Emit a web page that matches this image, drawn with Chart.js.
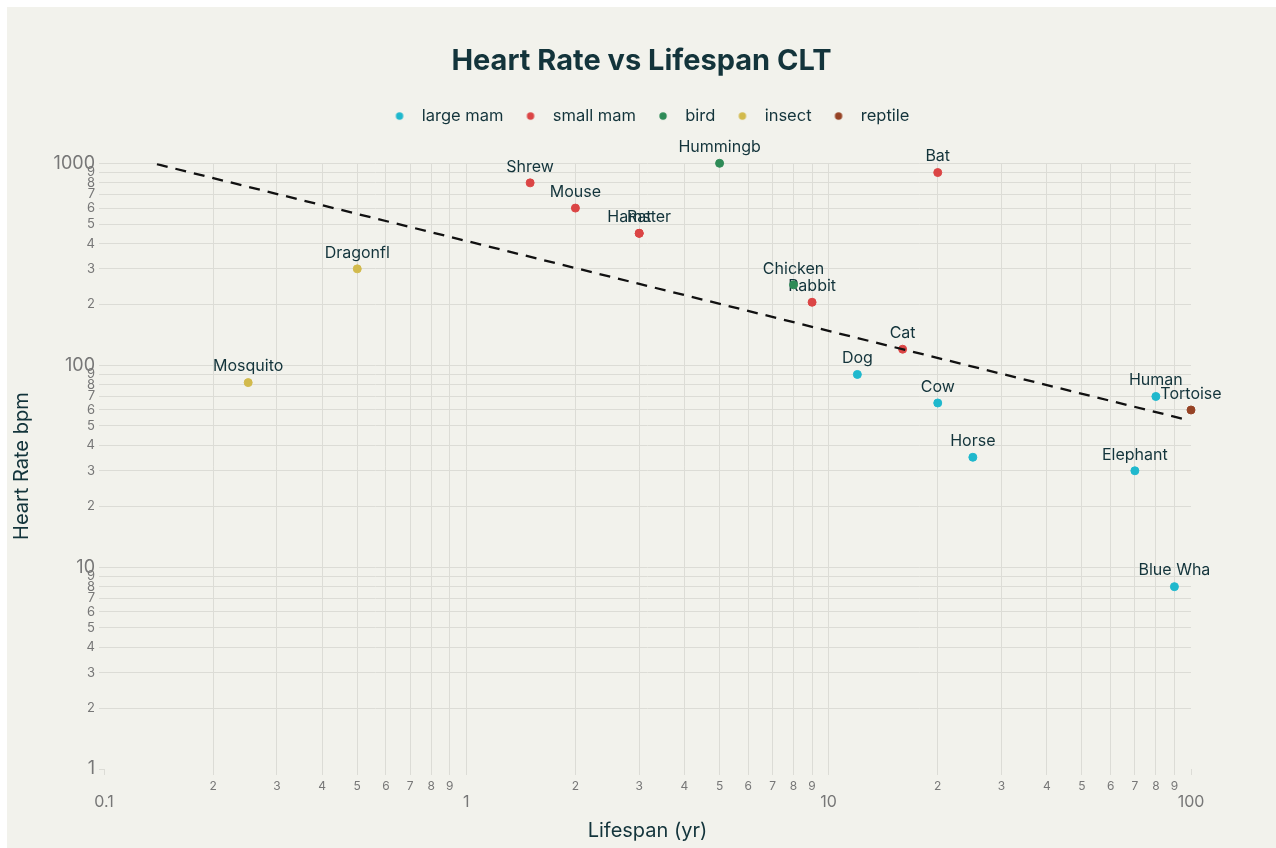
<!DOCTYPE html>
<html>
<head>
<meta charset="utf-8">
<title>Heart Rate vs Lifespan CLT</title>
<script src="https://cdn.jsdelivr.net/npm/chart.js@4.4.1/dist/chart.umd.min.js"></script>
<style>
  html, body { margin: 0; padding: 0; background: #ffffff; }
  .wrap { position: absolute; left: 7px; top: 7px; width: 1269px; height: 841px; background: #f2f2ec; }
</style>
</head>
<body>
<div class="wrap"><canvas id="chart" width="1269" height="841"></canvas></div>
<script>
// groups shown in the legend
const groups = ["large mam", "small mam", "bird", "insect", "reptile"];
const groupColors = ["#1FB8CD", "#DB4545", "#2E8B57", "#D2BA4C", "#964325"];

// one entry per animal (names are cut to 8 chars like the original)
const animals = ["Mosquito", "Dragonfl", "Shrew", "Mouse", "Hamster", "Rat", "Hummingb", "Chicken", "Rabbit",
                 "Cat", "Dog", "Cow", "Bat", "Horse", "Elephant", "Human", "Tortoise", "Blue Wha"];
const animalGroup = [3, 3, 1, 1, 1, 1, 2, 2, 1, 1, 0, 0, 1, 0, 0, 0, 4, 0];
const lifespan = [0.25, 0.5, 1.5, 2, 3, 3, 5, 8, 9, 16, 12, 20, 20, 25, 70, 80, 100, 90];
const heartRate = [82, 300, 800, 600, 450, 450, 1000, 250, 205, 120, 90, 65, 900, 35, 30, 70, 60, 8];

// dashed trend line end points
const trendX = [0.14, 96];
const trendY = [990, 54];

// log axis ticks
const xTicks = [0.1, 0.2, 0.3, 0.4, 0.5, 0.6, 0.7, 0.8, 0.9,
                1, 2, 3, 4, 5, 6, 7, 8, 9,
                10, 20, 30, 40, 50, 60, 70, 80, 90, 100];
const yTicks = [1, 2, 3, 4, 5, 6, 7, 8, 9,
                10, 20, 30, 40, 50, 60, 70, 80, 90,
                100, 200, 300, 400, 500, 600, 700, 800, 900, 1000];

const FONT = "Inter, 'Liberation Sans', sans-serif";
const TEXT = "#13343B";
const TICK = "#777777";
const GRID = "#dcdcd6";
const extraLegendGap = 29;

function isDecade(v) {
  const l = Math.log10(v);
  return Math.abs(l - Math.round(l)) < 1e-6;
}

function tickText(v) {
  if (isDecade(v)) return String(Number(v.toPrecision(1)));
  const e = Math.floor(Math.log10(v) + 1e-9);
  return String(Math.round(v / Math.pow(10, e)));
}

function dotImage(color) {
  const c = document.createElement("canvas");
  c.width = 10;
  c.height = 10;
  const g = c.getContext("2d");
  g.fillStyle = color;
  g.beginPath();
  g.arc(5, 5, 3.7, 0, Math.PI * 2);
  g.fill();
  return c;
}
const legendDots = groupColors.map(dotImage);

const datasets = groups.map((name, gi) => {
  const idx = animals.map((a, i) => i).filter(i => animalGroup[i] === gi);
  return {
    label: name,
    data: idx.map(i => ({ x: lifespan[i], y: heartRate[i] })),
    names: idx.map(i => animals[i]),
    backgroundColor: groupColors[gi],
    borderColor: groupColors[gi],
    borderWidth: 1,
    pointRadius: 4,
    pointHoverRadius: 4,
    clip: false,
    yAxisID: "y"
  };
});

datasets.push({
  type: "line",
  label: "trend",
  data: trendX.map((x, i) => ({ x: x, y: trendY[i] })),
  borderColor: "#111111",
  borderWidth: 2.3,
  borderDash: [11, 8],
  pointRadius: 0,
  fill: false,
  order: -1,
  yAxisID: "y"
});

// text above every marker, drawn under the markers
const pointLabels = {
  id: "pointLabels",
  beforeDatasetsDraw(chart) {
    const ctx = chart.ctx;
    ctx.save();
    ctx.font = "16px " + FONT;
    ctx.fillStyle = TEXT;
    ctx.textAlign = "center";
    ctx.textBaseline = "middle";
    chart.data.datasets.forEach((ds, i) => {
      if (!ds.names) return;
      chart.getDatasetMeta(i).data.forEach((pt, j) => {
        ctx.fillText(ds.names[j], pt.x, pt.y - 16);
      });
    });
    ctx.restore();
  }
};

// leave some room between the legend and the plot
const legendSpace = {
  id: "legendSpace",
  afterInit(chart) {
    const legend = chart.legend;
    const fit = legend.fit;
    legend.fit = function () {
      fit.call(this);
      this.height += extraLegendGap;
    };
  }
};

const ctx = document.getElementById("chart").getContext("2d");
const chart = new Chart(ctx, {
  type: "scatter",
  data: { datasets: datasets },
  plugins: [legendSpace, pointLabels],
  options: {
    responsive: false,
    animation: false,
    devicePixelRatio: 1,
    layout: { padding: 0 },
    plugins: {
      title: {
        display: true,
        text: "Heart Rate vs Lifespan CLT",
        color: TEXT,
        font: { family: FONT, size: 29, weight: "bold" },
        padding: { top: 37, bottom: 16 }
      },
      legend: {
        display: true,
        position: "top",
        fullSize: false,
        labels: {
          usePointStyle: true,
          pointStyleWidth: 28,
          padding: 13,
          color: TEXT,
          font: { family: FONT, size: 16.5 },
          generateLabels(c) {
            const items = Chart.defaults.plugins.legend.labels.generateLabels(c);
            return items
              .filter(it => it.datasetIndex < groups.length)
              .map(it => Object.assign(it, { pointStyle: legendDots[it.datasetIndex] }));
          }
        }
      },
      tooltip: { enabled: false }
    },
    scales: {
      x: {
        type: "logarithmic",
        min: 0.1,
        max: 100,
        afterBuildTicks(scale) { scale.ticks = xTicks.map(v => ({ value: v })); },
        afterFit(scale) { scale.height = 79; },
        border: { display: false },
        grid: {
          color: c => (c.tick && (c.tick.value <= 0.1001 || c.tick.value >= 99.9)) ? "rgba(0,0,0,0)" : GRID,
          tickColor: GRID,
          tickLength: 6,
          lineWidth: 1
        },
        ticks: {
          autoSkip: false,
          maxRotation: 0,
          padding: 4,
          color: TICK,
          font: c => isDecade(c.tick.value)
            ? { family: FONT, size: 16, lineHeight: 0.95 }
            : { family: FONT, size: 12 },
          callback: v => isDecade(v) ? ["", tickText(v)] : tickText(v)
        },
        title: {
          display: true,
          text: "Lifespan (yr)",
          color: TEXT,
          font: { family: FONT, size: 20 },
          padding: { top: 4, bottom: 5 }
        }
      },
      y: {
        type: "logarithmic",
        min: 1,
        max: 1000,
        afterBuildTicks(scale) { scale.ticks = yTicks.map(v => ({ value: v })); },
        afterFit(scale) { scale.width = 97; },
        border: { display: false },
        grid: {
          color: c => (c.tick && c.tick.value <= 1.0001) ? "rgba(0,0,0,0)" : GRID,
          tickColor: GRID,
          tickLength: 5,
          lineWidth: 1
        },
        ticks: {
          autoSkip: false,
          padding: 4,
          color: TICK,
          font: c => isDecade(c.tick.value)
            ? { family: FONT, size: 18 }
            : { family: FONT, size: 13, lineHeight: 1 },
          callback: v => tickText(v)
        },
        title: {
          display: true,
          text: "Heart Rate bpm",
          color: TEXT,
          font: { family: FONT, size: 20 },
          padding: { top: 3, bottom: 0 }
        }
      },
      // empty right-hand strip so the plot ends where the original does
      yRight: {
        type: "linear",
        position: "right",
        display: true,
        afterFit(scale) { scale.width = 85; },
        border: { display: false },
        grid: { display: false, drawOnChartArea: false },
        ticks: { display: false }
      }
    }
  }
});
</script>
</body>
</html>
